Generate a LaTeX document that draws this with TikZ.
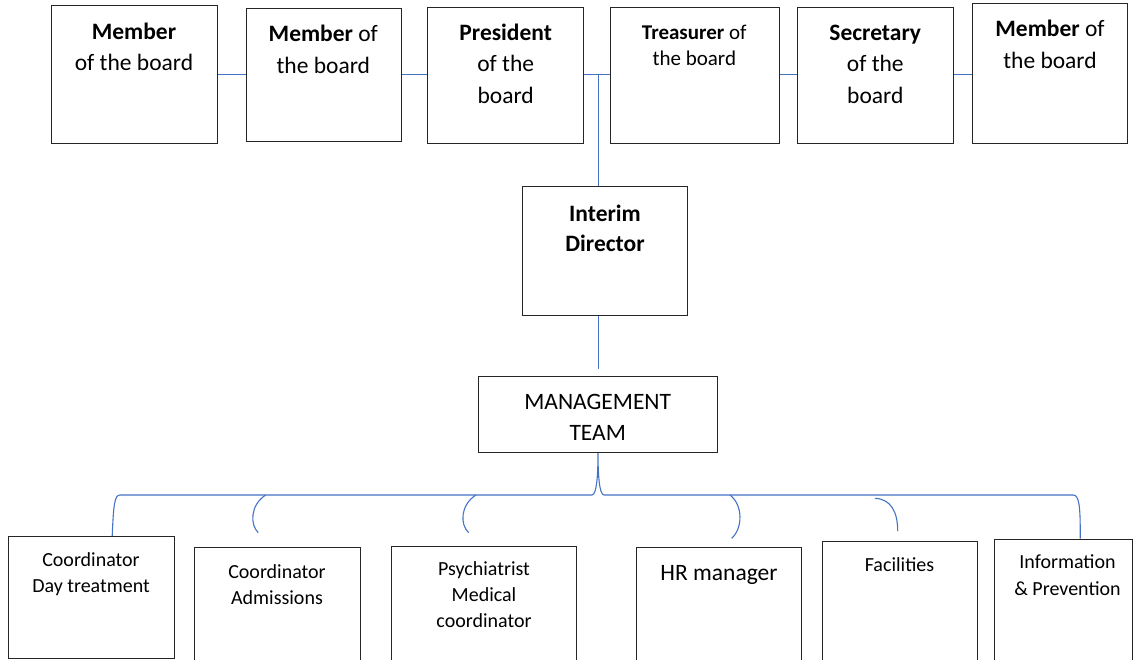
\documentclass[tikz,border=0pt]{standalone}
\usepackage{fontspec}
\setmainfont{Carlito}
\usetikzlibrary{calc}
\definecolor{linkblue}{HTML}{4472C4}
\begin{document}
\begin{tikzpicture}[x=1pt,y=-1pt,
  box/.style={draw=black!85, line width=1pt, inner sep=0pt, fill=none},
  link/.style={draw=linkblue, line width=1.1pt},
  bigtxt/.style={inner sep=0pt, anchor=base, align=center, font=\fontsize{23.5}{31.5}\selectfont},
  midtxt/.style={inner sep=0pt, anchor=base, align=center, font=\fontsize{21}{26.4}\selectfont},
  smalltxt/.style={inner sep=0pt, anchor=base, align=center, font=\fontsize{20}{26.3}\selectfont}]
\useasboundingbox (0,0) rectangle (1133,659);

% board row
\node[box, minimum width=166pt, minimum height=138pt] (m1) at (134,74) {};
\node[box, minimum width=155pt, minimum height=133pt] (m2) at (323.5,74.5) {};
\node[box, minimum width=155.3pt, minimum height=135.6pt] (m3) at (505.6,75.5) {};
\node[box, minimum width=168.3pt, minimum height=135.6pt] (m4) at (694.85,75.5) {};
\node[box, minimum width=155.6pt, minimum height=135.6pt] (m5) at (875.5,75.5) {};
\node[box, minimum width=155.7pt, minimum height=140pt] (m6) at (1049.85,73.3) {};

% text nodes: anchored at the baseline of their last line
\node[bigtxt] (t1) at (134,70.7) {\textbf{Member}\\of the board};
\node[bigtxt] (t2) at (323.3,73.3) {\textbf{Member} of\\the board};
\node[bigtxt] (t3) at (505.7,103.3) {\textbf{President}\\of the\\board};
\node[midtxt] (t4) at (694.3,65.7) {\textbf{Treasurer} of\\the board};
\node[bigtxt] (t5) at (875.3,103.3) {\textbf{Secretary}\\of the\\board};
\node[bigtxt] (t6) at (1050,68.3) {\textbf{Member} of\\the board};

% director and management
\node[box, minimum width=165.4pt, minimum height=129pt] (id) at (605,251.2) {};
\node[bigtxt, font=\fontsize{23.5}{30}\selectfont\bfseries] (tid) at (605,251.7) {Interim\\Director};
\node[box, minimum width=238.6pt, minimum height=76.7pt] (mt) at (598,414.35) {};
\node[bigtxt] (tmt) at (597.7,440.7) {MANAGEMENT\\TEAM};

% staff row
\node[box, minimum width=166pt, minimum height=121.6pt] (b1) at (91.3,597.5) {};
\node[box, minimum width=165.7pt, minimum height=122.3pt] (b2) at (277.15,608.85) {};
\node[box, minimum width=184.3pt, minimum height=124pt] (b3) at (483.85,608) {};
\node[box, minimum width=165.7pt, minimum height=122.3pt] (b4) at (718.85,608.85) {};
\node[box, minimum width=155pt, minimum height=129pt] (b5) at (899.8,605.5) {};
\node[box, minimum width=138pt, minimum height=131pt] (b6) at (1063,604.5) {};

\node[smalltxt] (s1) at (91,592.3) {Coordinator\\Day treatment};
\node[smalltxt] (s2) at (277,604.3) {Coordinator\\Admissions};
\node[smalltxt] (s3) at (484,627.7) {Psychiatrist\\Medical\\coordinator};
\node[bigtxt] (s4) at (719,580) {HR manager};
\node[smalltxt] (s5) at (899.5,571) {Facilities};
\node[smalltxt] (s6) at (1067.5,595) {Information\\\& Prevention};

% board connectors
\coordinate (ly) at (0,74.7);
\draw[link] (m1.east |- ly) -- (m2.west |- ly);
\draw[link] (m2.east |- ly) -- (m3.west |- ly);
\draw[link] (m3.east |- ly) -- (m4.west |- ly);
\draw[link] (m4.east |- ly) -- (m5.west |- ly);
\draw[link] (m5.east |- ly) -- (m6.west |- ly);
\coordinate (j1) at (598.3,74.7);
\draw[link] (j1) -- (j1 |- id.north);
\draw[link, shorten >=6.7pt] (id.south -| j1) -- (mt.north -| j1);

% management brace
\draw[link] ($(b1.north west)+(104.4,0)$) .. controls (113.5,505) and (114.5,495) .. (120,495)
  -- (592,495) .. controls (597,495) and (598,472) .. (mt.south)
  .. controls (598,472) and (599,495) .. (604,495)
  -- (1073,495) .. controls (1079,495) and (1080.5,505) .. ($(b6.north west)+(86.7,0)$);

% hooks
\coordinate (h2a) at (265.7,495); \coordinate (h2b) at (258.3,532.7);
\draw[link] (h2a) .. controls (250,505) and (250,525) .. (h2b);
\coordinate (h3a) at (476,495); \coordinate (h3b) at (468.7,532.7);
\draw[link] (h3a) .. controls (460,505) and (460,525) .. (h3b);
\coordinate (h4a) at (730,495); \coordinate (h4b) at (731.7,538.3);
\draw[link] (h4a) .. controls (743,505) and (743,528) .. (h4b);
\coordinate (h5a) at (875,498.3); \coordinate (h5b) at (897.7,531);
\draw[link] (h5a) .. controls (891,499) and (897.7,512) .. (h5b);
\end{tikzpicture}
\end{document}
